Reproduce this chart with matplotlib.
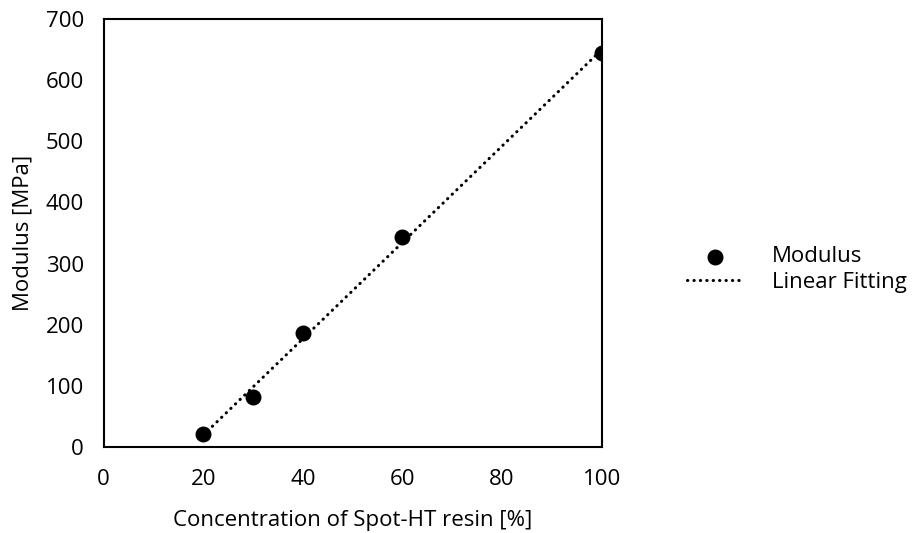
import numpy as np
import matplotlib
matplotlib.use("Agg")
import matplotlib.pyplot as plt

plt.rcParams['font.family'] = ['Open Sans', 'DejaVu Sans']

# data
concentration = [20, 30, 40, 60, 100]
modulus = [22, 82, 186, 343, 645]
x_ticks = [0, 20, 40, 60, 80, 100]
y_ticks = [0, 100, 200, 300, 400, 500, 600, 700]

# linear fit over the measured points
k, b = np.polyfit(concentration, modulus, 1)
fit_x = np.array([min(concentration), max(concentration)])
fit_y = k * fit_x + b

fig = plt.figure(figsize=(9.13, 5.33), dpi=100)
ax = fig.add_axes([0.1134, 0.1614, 0.5455, 0.803])

ax.plot(fit_x, fit_y, color='black', linestyle=(0, (0.1, 2.0)), linewidth=2.2,
        dash_capstyle='round', label='Linear Fitting', zorder=2)
ax.scatter(concentration, modulus, s=110, color='black', label='Modulus', zorder=3)

ax.set_xlim(0, 100)
ax.set_ylim(0, 700)
ax.set_xticks(x_ticks)
ax.set_yticks(y_ticks)
ax.tick_params(length=0, labelsize=16)
ax.tick_params(axis='x', pad=16)
ax.tick_params(axis='y', pad=14)
for s in ax.spines.values():
    s.set_linewidth(1.5)

ax.set_xlabel('Concentration of Spot-HT resin [%]', fontsize=16, labelpad=14)
ax.set_ylabel('Modulus [MPa]', fontsize=16, labelpad=9)

h, l = ax.get_legend_handles_labels()
fig.legend(h[::-1], l[::-1], loc='center left', bbox_to_anchor=(0.731, 0.494),
           frameon=False, fontsize=16, handlelength=2.5, handletextpad=1.3,
           labelspacing=0.2)

fig.savefig('out.png', dpi=100)
